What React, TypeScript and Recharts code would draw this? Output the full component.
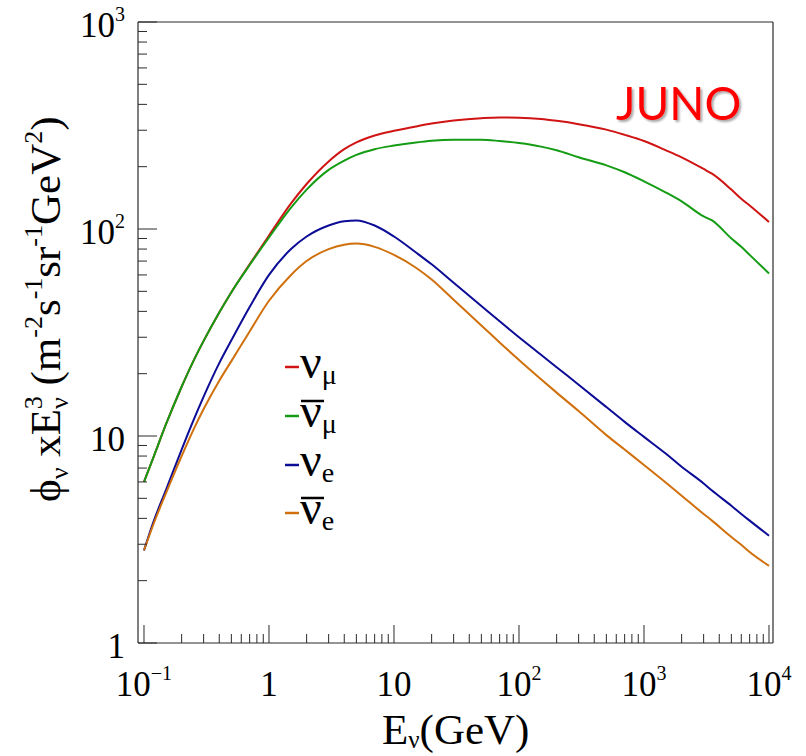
import React from 'react';
import { LineChart, Line, XAxis, YAxis, Legend, ReferenceLine, Customized } from 'recharts';

// Neutrino energy grid (GeV)
const energy = [
  0.1, 0.12, 0.15, 0.2, 0.25, 0.3, 0.4, 0.5, 0.7, 1, 1.5, 2, 3, 4, 5, 7, 10, 15, 20, 30, 50, 70,
  100, 150, 200, 300, 500, 700, 1000, 1500, 2000, 3000, 3500, 5000, 6000, 7000, 10000,
];

// phi * E^3 (m^-2 s^-1 sr^-1 GeV^2)
const numu = [
  6.0, 8.0, 11.4, 17.3, 23.2, 28.8, 39.5, 49.5, 67.5, 93, 133, 165, 212, 243, 262, 283, 298, 313, 323, 334, 343, 346,
  345, 340, 333, 321, 302, 285, 266, 240, 222, 195, 185, 155, 140, 130, 108,
];
const numubar = [
  6.0, 8.0, 11.4, 17.3, 23.2, 28.8, 39.5, 49.5, 67, 91, 127, 155, 193, 214, 228, 243, 253, 262, 267, 270, 270, 266,
  260, 250, 240, 222, 203, 188, 170, 150, 136, 115, 110, 90, 82, 75, 61,
];
const nue = [
  2.8, 3.9, 5.5, 8.6, 12, 15.5, 22.5, 29, 42, 60, 80, 92, 104, 109, 110, 104, 92, 77, 67.5, 55, 42.5, 35.8,
  30, 24.7, 21.5, 17.7, 13.8, 11.7, 9.9, 8.2, 7.1, 5.9, 5.45, 4.6, 4.2, 3.9, 3.3,
];
const nuebar = [
  2.8, 3.8, 5.3, 8.0, 10.8, 13.5, 18.5, 23, 32, 45, 60, 70, 80, 84, 85, 82, 75, 65, 57, 45.5, 34.2, 28.3,
  23.3, 18.8, 16.2, 13.2, 10.1, 8.6, 7.25, 5.95, 5.15, 4.2, 3.9, 3.25, 2.98, 2.75, 2.36,
];

const X_MIN = 0.08954;
const X_MAX = 10765;

const majorX = [0.1, 1, 10, 100, 1000, 10000];
const majorY = [1, 10, 100, 1000];
const minorMultipliers = [2, 3, 4, 5, 6, 7, 8, 9];
const xTicks = [
  ...majorX,
  ...[0.1, 1, 10, 100, 1000].flatMap((d) => minorMultipliers.map((m) => d * m)),
];
const yTicks = [...majorY, ...[1, 10, 100].flatMap((d) => minorMultipliers.map((m) => d * m))];

const xTickLabels: Record<string, [string, string]> = {
  '-1': ['10', '\u22121'],
  '0': ['1', ''],
  '1': ['10', ''],
  '2': ['10', '2'],
  '3': ['10', '3'],
  '4': ['10', '4'],
};

const series = [
  { key: 'numu', color: '#d01414', sym: 'ν', sub: 'μ', bar: false },
  { key: 'numubar', color: '#149c14', sym: 'ν', sub: 'μ', bar: true },
  { key: 'nue', color: '#0c0c96', sym: 'ν', sub: 'e', bar: false },
  { key: 'nuebar', color: '#d0700c', sym: 'ν', sub: 'e', bar: true },
];

const data = energy.map((e, i) => ({
  e,
  numu: numu[i],
  numubar: numubar[i],
  nue: nue[i],
  nuebar: nuebar[i],
}));

const SERIF = '"Liberation Serif", "Times New Roman", serif';
const AXIS_COLOR = '#2a2a2a';
const TICK_FONT = 35;
const SUP_FONT = 20;
const Y_AXIS_W = 60;
const X_AXIS_H = 60;

const decadeOf = (v: number) => {
  const l = Math.log10(v);
  return Math.abs(l - Math.round(l)) < 1e-6 ? Math.round(l) : null;
};

const XTick = (props: any) => {
  const { x, y, payload } = props;
  const dec = decadeOf(payload.value);
  const len = dec !== null ? 18 : 9;
  const lbl = dec !== null ? xTickLabels[String(dec)] : null;
  return (
    <g>
      <line x1={x} x2={x} y1={y} y2={y - len} stroke={AXIS_COLOR} strokeWidth={1} />
      {lbl && (
        <text x={x} y={y + 53} textAnchor="middle" fontFamily={SERIF} fontSize={TICK_FONT} fill="#000">
          {lbl[0]}
          {lbl[1] && (
            <tspan fontSize={SUP_FONT} dy={-16}>
              {lbl[1]}
            </tspan>
          )}
        </text>
      )}
    </g>
  );
};

const YTick = (props: any) => {
  const { x, y, payload } = props;
  const dec = decadeOf(payload.value);
  const len = dec !== null ? 19 : 9;
  let main = '';
  let sup = '';
  if (dec === 0) main = '1';
  else if (dec === 1) main = '10';
  else if (dec !== null) {
    main = '10';
    sup = String(dec);
  }
  return (
    <g>
      <line x1={x} x2={x + len} y1={y} y2={y} stroke={AXIS_COLOR} strokeWidth={1} />
      {dec !== null && (
        <text x={x - 13} y={y + 15} textAnchor="end" fontFamily={SERIF} fontSize={TICK_FONT} fill="#000">
          {main}
          {sup && (
            <tspan fontSize={SUP_FONT} dy={-16}>
              {sup}
            </tspan>
          )}
        </text>
      )}
    </g>
  );
};

const LegendBox = () => {
  const rowY = [27, 76, 125, 173];
  return (
    <svg width={110} height={210} style={{ overflow: 'visible' }}>
      {series.map((s, i) => (
        <g key={s.key}>
          <line x1={5} x2={19} y1={rowY[i]} y2={rowY[i]} stroke={s.color} strokeWidth={2.5} />
          <text x={20} y={rowY[i] + 11} fontFamily={SERIF} fontSize={48} fill="#000">
            {s.sym}
            <tspan fontSize={28} dy={6}>
              {s.sub}
            </tspan>
          </text>
          {s.bar && (
            <line x1={21} x2={44} y1={rowY[i] - 15} y2={rowY[i] - 15} stroke="#000" strokeWidth={2.5} />
          )}
        </g>
      ))}
    </svg>
  );
};

const Annotations = () => (
  <g>
    <defs>
      <filter id="junoShadow" x="-10%" y="-10%" width="130%" height="140%">
        <feDropShadow dx={2} dy={2} stdDeviation={1.2} floodColor="#000" floodOpacity={0.35} />
      </filter>
    </defs>
    <text
      x={616}
      y={120}
      fontFamily='"Lato", "Open Sans", sans-serif'
      fontSize={46}
      fill="#ff0000"
      filter="url(#junoShadow)"
    >
      JUNO
    </text>
    <text x={382} y={744} fontFamily={SERIF} fontSize={43} fill="#000">
      E
      <tspan fontSize={25} dy={4}>
        ν
      </tspan>
      <tspan dy={-4}>(GeV)</tspan>
    </text>
    <text x={60} y={502} transform="rotate(-90, 60, 502)" fontFamily={SERIF} fontSize={43} fill="#000">
      ϕ
      <tspan fontSize={26} dy={8}>
        ν
      </tspan>
      <tspan dy={-8}> xE</tspan>
      <tspan fontSize={26} dy={8}>
        ν
      </tspan>
      <tspan fontSize={26} dx={-12} dy={-26}>
        3
      </tspan>
      <tspan dy={18}> (m</tspan>
      <tspan fontSize={26} dy={-18}>
        -2
      </tspan>
      <tspan dy={18}>s</tspan>
      <tspan fontSize={26} dy={-18}>
        -1
      </tspan>
      <tspan dy={18}>sr</tspan>
      <tspan fontSize={26} dy={-18}>
        -1
      </tspan>
      <tspan dy={18}>GeV</tspan>
      <tspan fontSize={26} dy={-18}>
        2
      </tspan>
      <tspan dy={18}>)</tspan>
    </text>
  </g>
);

export default function App() {
  return (
    <div style={{ position: 'fixed', left: 0, top: 0, background: '#fff' }}>
      <LineChart
        width={806}
        height={756}
        data={data}
        margin={{ top: 22, right: 33, bottom: 113 - X_AXIS_H, left: 138 - Y_AXIS_W }}
      >
        <XAxis
          dataKey="e"
          type="number"
          scale="log"
          domain={[X_MIN, X_MAX]}
          allowDataOverflow
          ticks={xTicks}
          interval={0}
          tick={<XTick />}
          tickLine={false}
          tickSize={0}
          tickMargin={0}
          height={X_AXIS_H}
          axisLine={{ stroke: AXIS_COLOR, strokeWidth: 1.2 }}
        />
        <YAxis
          type="number"
          scale="log"
          domain={[1, 1000]}
          allowDataOverflow
          ticks={yTicks}
          interval={0}
          tick={<YTick />}
          tickLine={false}
          tickSize={0}
          tickMargin={0}
          width={Y_AXIS_W}
          axisLine={{ stroke: AXIS_COLOR, strokeWidth: 1.2 }}
        />
        <ReferenceLine y={1000} stroke={AXIS_COLOR} strokeWidth={1.2} />
        <ReferenceLine x={X_MAX} stroke={AXIS_COLOR} strokeWidth={1.2} />
        {series.map((s) => (
          <Line
            key={s.key}
            dataKey={s.key}
            stroke={s.color}
            strokeWidth={2}
            dot={false}
            type="monotone"
            isAnimationActive={false}
          />
        ))}
        <Legend
          layout="vertical"
          align="center"
          verticalAlign="middle"
          content={<LegendBox />}
          wrapperStyle={{ position: 'absolute', left: 280, top: 340, width: 110, height: 210 }}
        />
        <Customized component={<Annotations />} />
      </LineChart>
    </div>
  );
}
